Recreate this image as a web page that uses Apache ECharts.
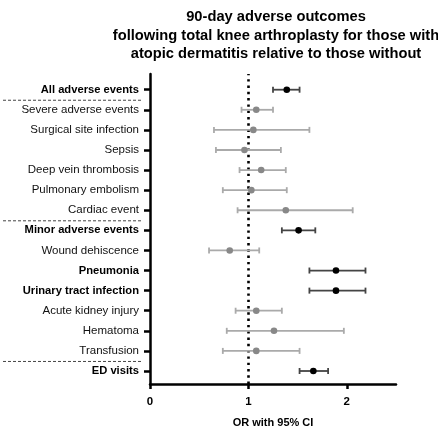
<!DOCTYPE html>
<html>
<head>
<meta charset="utf-8">
<script src="https://cdn.jsdelivr.net/npm/echarts@6/dist/echarts.min.js"></script>
<style>
html,body{margin:0;padding:0;background:#fff;}
#chart{width:438px;height:433px;}
</style>
</head>
<body>
<div id="chart"></div>
<script>
var categories = [
  'All adverse events', 'Severe adverse events', 'Surgical site infection', 'Sepsis',
  'Deep vein thrombosis', 'Pulmonary embolism', 'Cardiac event', 'Minor adverse events',
  'Wound dehiscence', 'Pneumonia', 'Urinary tract infection', 'Acute kidney injury',
  'Hematoma', 'Transfusion', 'ED visits'
];
var oddsRatio = [1.39, 1.08, 1.05, 0.96, 1.13, 1.03, 1.38, 1.51, 0.81, 1.89, 1.89, 1.08, 1.26, 1.08, 1.66];
var ciLow     = [1.25, 0.93, 0.65, 0.67, 0.91, 0.74, 0.89, 1.34, 0.60, 1.62, 1.62, 0.87, 0.78, 0.74, 1.52];
var ciHigh    = [1.52, 1.25, 1.62, 1.33, 1.38, 1.39, 2.06, 1.68, 1.11, 2.19, 2.19, 1.34, 1.97, 1.52, 1.81];
var significant = [true, false, false, false, false, false, false, true, false, true, true, false, false, false, true];
var separatorAfter = [0, 6, 13];
var xTicks = [0, 1, 2];
var referenceOR = 1;

var FONT = "Arial, 'Liberation Sans', sans-serif";
var chart = echarts.init(document.getElementById('chart'), null, {renderer: 'canvas'});

var seriesData = categories.map(function (c, i) {
  return [i, ciLow[i], oddsRatio[i], ciHigh[i], significant[i] ? 1 : 0];
});

var option = {
  animation: false,
  backgroundColor: '#fff',
  textStyle: {fontFamily: FONT},
  title: {
    text: '90-day adverse outcomes\nfollowing total knee arthroplasty for those with\natopic dermatitis relative to those without',
    left: 271, top: 3, textAlign: 'center',
    textStyle: {fontFamily: FONT, fontWeight: 'bold', fontSize: 14.7, lineHeight: 18.5, color: '#000'}
  },
  grid: [
    {left: 150, right: 42, top: 74, height: 310, containLabel: false},
    {left: 150, right: 42, top: 79.65, height: 301.4, containLabel: false}
  ],
  xAxis: [
    {
      gridIndex: 0, type: 'value', min: 0, max: 2.5,
      name: 'OR with 95% CI', nameLocation: 'middle', nameGap: 33,
      nameTextStyle: {fontFamily: FONT, fontWeight: 'bold', fontSize: 11, color: '#000'},
      axisLine: {show: true, onZero: false, lineStyle: {color: '#000', width: 2.5}},
      axisTick: {show: true, length: 5, lineStyle: {color: '#000', width: 2.5}, customValues: xTicks},
      axisLabel: {fontFamily: FONT, fontWeight: 'bold', fontSize: 11.5, color: '#000', margin: 12, customValues: xTicks},
      splitLine: {show: false}
    },
    {
      gridIndex: 1, type: 'value', min: 0, max: 2.5, show: false
    }
  ],
  yAxis: [
    {
      gridIndex: 0, type: 'value', min: 0, max: 1,
      axisLine: {show: true, onZero: false, lineStyle: {color: '#000', width: 2.5}},
      axisTick: {show: false}, axisLabel: {show: false}, splitLine: {show: false}
    },
    {
      gridIndex: 1, type: 'category', data: categories, inverse: true,
      axisLine: {show: false},
      axisTick: {show: true, alignWithLabel: true, length: 6, lineStyle: {color: '#000', width: 2.5}},
      axisLabel: {
        margin: 11, interval: 0,
        fontFamily: FONT, fontSize: 11.5, fontWeight: 'normal', color: '#111',
        formatter: function (v, i) { return significant[i] ? '{b|' + v + '}' : v; },
        rich: {
          b: {fontFamily: FONT, fontWeight: 'bold', fontSize: 11.2, color: '#000'}
        }
      },
      splitLine: {show: false}
    }
  ],
  series: [
    {
      type: 'line', xAxisIndex: 0, yAxisIndex: 0, data: [], silent: true,
      markLine: {
        symbol: 'none', silent: true, label: {show: false},
        lineStyle: {color: '#000', width: 2.6, type: [2.4, 3.9], cap: 'butt'},
        data: [{xAxis: referenceOR}]
      }
    },
    {
      type: 'custom', xAxisIndex: 1, yAxisIndex: 1, data: seriesData,
      encode: {x: [1, 2, 3], y: 0},
      z: 5,
      renderItem: function (params, api) {
        var idx = api.value(0);
        var sig = api.value(4) === 1;
        var lo = api.coord([api.value(1), idx]);
        var mid = api.coord([api.value(2), idx]);
        var hi = api.coord([api.value(3), idx]);
        var lineColor = sig ? '#444' : '#aaa';
        var dotColor = sig ? '#000' : '#888';
        var cap = 3;
        var ls = {stroke: lineColor, lineWidth: 1.8};
        return {
          type: 'group',
          children: [
            {type: 'line', shape: {x1: lo[0], y1: lo[1], x2: hi[0], y2: hi[1]}, style: ls},
            {type: 'line', shape: {x1: lo[0], y1: lo[1] - cap, x2: lo[0], y2: lo[1] + cap}, style: ls},
            {type: 'line', shape: {x1: hi[0], y1: hi[1] - cap, x2: hi[0], y2: hi[1] + cap}, style: ls},
            {type: 'circle', shape: {cx: mid[0], cy: mid[1], r: 3.3}, style: {fill: dotColor}}
          ]
        };
      }
    }
  ]
};
chart.setOption(option);

var graphics = separatorAfter.map(function (i) {
  var a = chart.convertToPixel({xAxisIndex: 1, yAxisIndex: 1}, [0, i]);
  var b = chart.convertToPixel({xAxisIndex: 1, yAxisIndex: 1}, [0, i + 1]);
  var y = (a[1] + b[1]) / 2 + 0.5;
  return {
    type: 'line', silent: true,
    shape: {x1: 3, y1: y, x2: 143, y2: y},
    style: {stroke: '#444', lineWidth: 1, lineDash: [3, 2]}
  };
});
chart.setOption({graphic: graphics});
</script>
</body>
</html>
